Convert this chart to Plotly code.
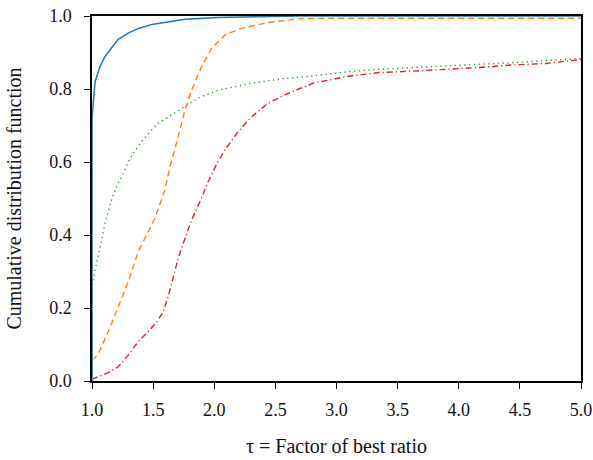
import plotly.graph_objects as go

# Performance-profile curves: fraction of problems solved within a factor tau of the best ratio
tau_blue = [1.0, 1.0, 1.0, 1.025, 1.065, 1.106, 1.16, 1.215, 1.30, 1.38, 1.49, 1.62, 1.76, 2.03, 2.3, 2.7, 5.0]
cdf_blue = [0.0, 0.5, 0.72, 0.82, 0.861, 0.889, 0.911, 0.936, 0.954, 0.966, 0.977, 0.984, 0.991, 0.996, 0.998, 1.0, 1.0]

tau_orange = [1.0, 1.047, 1.133, 1.215, 1.297, 1.378, 1.46, 1.515, 1.596, 1.645, 1.705, 1.76, 1.815,
              1.896, 1.978, 2.087, 2.22, 2.44, 2.71, 3.0, 4.0, 5.0]
cdf_orange = [0.058, 0.071, 0.135, 0.204, 0.272, 0.354, 0.409, 0.446, 0.523, 0.596, 0.669, 0.742, 0.797,
              0.861, 0.911, 0.948, 0.966, 0.982, 0.993, 0.994, 0.994, 0.994]

tau_green = [1.0, 1.0, 1.025, 1.052, 1.079, 1.106, 1.133, 1.16, 1.2, 1.243, 1.297, 1.337, 1.406, 1.474,
             1.542, 1.637, 1.733, 1.868, 2.032, 2.17, 2.33, 2.577, 2.81, 3.08, 3.35, 3.625, 3.90,
             4.17, 4.44, 4.715, 5.0]
cdf_green = [0.0, 0.26, 0.304, 0.341, 0.386, 0.432, 0.468, 0.496, 0.532, 0.56, 0.60, 0.624, 0.656, 0.683,
             0.706, 0.726, 0.747, 0.775, 0.797, 0.806, 0.817, 0.829, 0.836, 0.847, 0.854, 0.859, 0.863,
             0.868, 0.872, 0.878, 0.883]

tau_red = [1.0, 1.038, 1.133, 1.215, 1.297, 1.378, 1.46, 1.53, 1.583, 1.623, 1.664, 1.705, 1.746, 1.815,
           1.882, 1.95, 2.019, 2.087, 2.195, 2.305, 2.44, 2.577, 2.672, 2.81, 3.08, 3.35, 3.625, 3.90,
           4.17, 4.44, 4.715, 5.0]
cdf_red = [0.005, 0.01, 0.023, 0.039, 0.071, 0.108, 0.135, 0.162, 0.19, 0.231, 0.286, 0.336, 0.377, 0.441,
           0.491, 0.546, 0.594, 0.633, 0.683, 0.724, 0.761, 0.784, 0.797, 0.816, 0.834, 0.845, 0.849, 0.854,
           0.859, 0.866, 0.87, 0.881]

x_ticks = [1.0, 1.5, 2.0, 2.5, 3.0, 3.5, 4.0, 4.5, 5.0]
y_ticks = [0.0, 0.2, 0.4, 0.6, 0.8, 1.0]

FONT = "Liberation Serif, Times New Roman, DejaVu Serif, serif"

fig = go.Figure()
fig.add_trace(go.Scatter(x=tau_green, y=cdf_green, mode="lines",
                         line=dict(color="#2ca02c", width=1.4, dash="1.3px,3.5px")))
fig.add_trace(go.Scatter(x=tau_red, y=cdf_red, mode="lines",
                         line=dict(color="#d62728", width=1.4, dash="6px,3px,1.2px,3px")))
fig.add_trace(go.Scatter(x=tau_orange, y=cdf_orange, mode="lines",
                         line=dict(color="#ff7f0e", width=1.4, dash="6px,4px")))
fig.add_trace(go.Scatter(x=tau_blue, y=cdf_blue, mode="lines",
                         line=dict(color="#1f77b4", width=1.5)))

axis_common = dict(
    showgrid=False, zeroline=False, showline=True, linecolor="black", linewidth=1.5,
    mirror=True, ticks="outside", ticklen=6, tickwidth=1.2, tickcolor="black",
    automargin=False,
    tickfont=dict(family=FONT, size=18, color="#111"),
)

fig.update_layout(
    width=593, height=460,
    margin=dict(l=92, r=12, t=16, b=79),
    paper_bgcolor="white", plot_bgcolor="white",
    font=dict(family=FONT, size=18, color="#111"),
    showlegend=False,
    xaxis=dict(range=[1, 5], tickvals=x_ticks, ticktext=[f"{v:.1f}" for v in x_ticks],
               ticklabelstandoff=6,
               title=dict(text="τ = Factor of best ratio", font=dict(family=FONT, size=20, color="#111"),
                          standoff=20),
               **axis_common),
    yaxis=dict(range=[0, 1], tickvals=y_ticks, ticktext=[f"{v:.1f}" for v in y_ticks],
               ticklabelstandoff=9,
               title=dict(text="Cumulative distribution function", font=dict(family=FONT, size=20, color="#111"),
                          standoff=22),
               **axis_common),
)

fig.write_html("out.html")
